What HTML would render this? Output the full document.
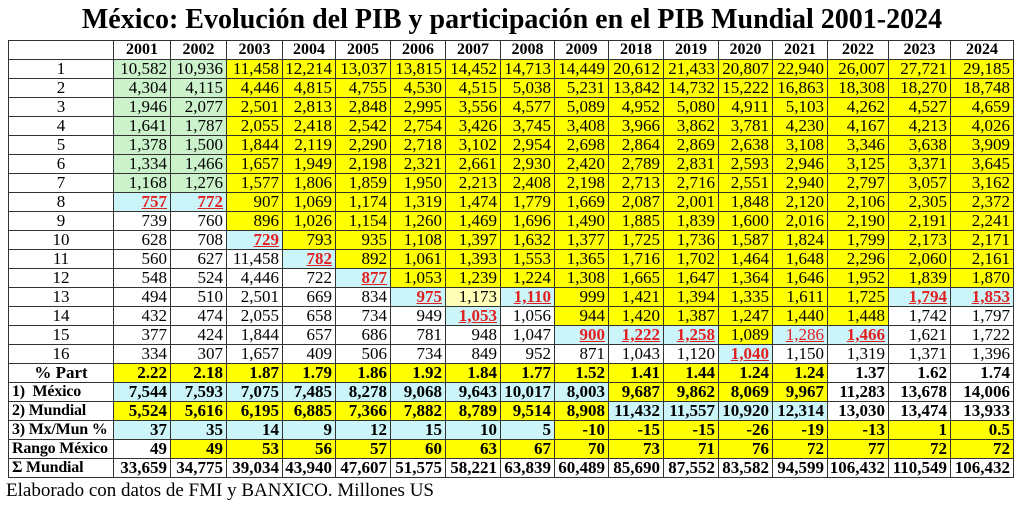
<!DOCTYPE html>
<html><head><meta charset="utf-8"><style>
body{margin:0;width:1024px;height:506px;background:#fff;overflow:hidden;font-family:"Liberation Serif",serif;}
h1{position:absolute;left:0;top:3px;width:1024px;margin:0;text-align:center;font-size:28px;line-height:34px;font-weight:bold;}
table{position:absolute;left:8px;top:40px;width:1005px;border-collapse:collapse;table-layout:fixed;}
td{border:1px solid #333;height:18px;padding:0 3px 0 0;font-size:17px;line-height:18px;text-align:right;white-space:nowrap;overflow:hidden;}
tr.h td{font-weight:bold;text-align:center;font-size:16px;padding:0;}
td.c{text-align:center;padding:0;}
td.lb{text-align:left;padding-left:3px;font-weight:bold;font-size:16px;letter-spacing:-0.2px;}
tr.bd td{font-weight:bold;}
.g{background:#ccf2cc}.y{background:#ffff00}.b{background:#ccf5fa}.l{background:#ffffb8}
.r{color:#e02020;font-weight:bold;text-decoration:underline;}
.f{position:absolute;left:6px;top:480px;font-size:19px;}
</style></head><body>
<h1>México: Evolución del PIB y participación en el PIB Mundial 2001-2024</h1>
<table>
<colgroup><col style="width:105px"><col style="width:57px"><col style="width:56px"><col style="width:56px"><col style="width:53px"><col style="width:55px"><col style="width:55px"><col style="width:55px"><col style="width:54px"><col style="width:54px"><col style="width:55px"><col style="width:55px"><col style="width:54px"><col style="width:55px"><col style="width:61px"><col style="width:62px"><col style="width:63px"></colgroup>
<tr class="h"><td></td><td>2001</td><td>2002</td><td>2003</td><td>2004</td><td>2005</td><td>2006</td><td>2007</td><td>2008</td><td>2009</td><td>2018</td><td>2019</td><td>2020</td><td>2021</td><td>2022</td><td>2023</td><td>2024</td></tr>
<tr><td class="c">1</td><td class="g">10,582</td><td class="g">10,936</td><td class="y">11,458</td><td class="y">12,214</td><td class="y">13,037</td><td class="y">13,815</td><td class="y">14,452</td><td class="y">14,713</td><td class="y">14,449</td><td class="y">20,612</td><td class="y">21,433</td><td class="y">20,807</td><td class="y">22,940</td><td class="y">26,007</td><td class="y">27,721</td><td class="y">29,185</td></tr>
<tr><td class="c">2</td><td class="g">4,304</td><td class="g">4,115</td><td class="y">4,446</td><td class="y">4,815</td><td class="y">4,755</td><td class="y">4,530</td><td class="y">4,515</td><td class="y">5,038</td><td class="y">5,231</td><td class="y">13,842</td><td class="y">14,732</td><td class="y">15,222</td><td class="y">16,863</td><td class="y">18,308</td><td class="y">18,270</td><td class="y">18,748</td></tr>
<tr><td class="c">3</td><td class="g">1,946</td><td class="g">2,077</td><td class="y">2,501</td><td class="y">2,813</td><td class="y">2,848</td><td class="y">2,995</td><td class="y">3,556</td><td class="y">4,577</td><td class="y">5,089</td><td class="y">4,952</td><td class="y">5,080</td><td class="y">4,911</td><td class="y">5,103</td><td class="y">4,262</td><td class="y">4,527</td><td class="y">4,659</td></tr>
<tr><td class="c">4</td><td class="g">1,641</td><td class="g">1,787</td><td class="y">2,055</td><td class="y">2,418</td><td class="y">2,542</td><td class="y">2,754</td><td class="y">3,426</td><td class="y">3,745</td><td class="y">3,408</td><td class="y">3,966</td><td class="y">3,862</td><td class="y">3,781</td><td class="y">4,230</td><td class="y">4,167</td><td class="y">4,213</td><td class="y">4,026</td></tr>
<tr><td class="c">5</td><td class="g">1,378</td><td class="g">1,500</td><td class="y">1,844</td><td class="y">2,119</td><td class="y">2,290</td><td class="y">2,718</td><td class="y">3,102</td><td class="y">2,954</td><td class="y">2,698</td><td class="y">2,864</td><td class="y">2,869</td><td class="y">2,638</td><td class="y">3,108</td><td class="y">3,346</td><td class="y">3,638</td><td class="y">3,909</td></tr>
<tr><td class="c">6</td><td class="g">1,334</td><td class="g">1,466</td><td class="y">1,657</td><td class="y">1,949</td><td class="y">2,198</td><td class="y">2,321</td><td class="y">2,661</td><td class="y">2,930</td><td class="y">2,420</td><td class="y">2,789</td><td class="y">2,831</td><td class="y">2,593</td><td class="y">2,946</td><td class="y">3,125</td><td class="y">3,371</td><td class="y">3,645</td></tr>
<tr><td class="c">7</td><td class="g">1,168</td><td class="g">1,276</td><td class="y">1,577</td><td class="y">1,806</td><td class="y">1,859</td><td class="y">1,950</td><td class="y">2,213</td><td class="y">2,408</td><td class="y">2,198</td><td class="y">2,713</td><td class="y">2,716</td><td class="y">2,551</td><td class="y">2,940</td><td class="y">2,797</td><td class="y">3,057</td><td class="y">3,162</td></tr>
<tr><td class="c">8</td><td class="b"><span class="r">757</span></td><td class="b"><span class="r">772</span></td><td class="y">907</td><td class="y">1,069</td><td class="y">1,174</td><td class="y">1,319</td><td class="y">1,474</td><td class="y">1,779</td><td class="y">1,669</td><td class="y">2,087</td><td class="y">2,001</td><td class="y">1,848</td><td class="y">2,120</td><td class="y">2,106</td><td class="y">2,305</td><td class="y">2,372</td></tr>
<tr><td class="c">9</td><td>739</td><td>760</td><td class="y">896</td><td class="y">1,026</td><td class="y">1,154</td><td class="y">1,260</td><td class="y">1,469</td><td class="y">1,696</td><td class="y">1,490</td><td class="y">1,885</td><td class="y">1,839</td><td class="y">1,600</td><td class="y">2,016</td><td class="y">2,190</td><td class="y">2,191</td><td class="y">2,241</td></tr>
<tr><td class="c">10</td><td>628</td><td>708</td><td class="b"><span class="r">729</span></td><td class="y">793</td><td class="y">935</td><td class="y">1,108</td><td class="y">1,397</td><td class="y">1,632</td><td class="y">1,377</td><td class="y">1,725</td><td class="y">1,736</td><td class="y">1,587</td><td class="y">1,824</td><td class="y">1,799</td><td class="y">2,173</td><td class="y">2,171</td></tr>
<tr><td class="c">11</td><td>560</td><td>627</td><td>11,458</td><td class="b"><span class="r">782</span></td><td class="y">892</td><td class="y">1,061</td><td class="y">1,393</td><td class="y">1,553</td><td class="y">1,365</td><td class="y">1,716</td><td class="y">1,702</td><td class="y">1,464</td><td class="y">1,648</td><td class="y">2,296</td><td class="y">2,060</td><td class="y">2,161</td></tr>
<tr><td class="c">12</td><td>548</td><td>524</td><td>4,446</td><td>722</td><td class="b"><span class="r">877</span></td><td class="y">1,053</td><td class="y">1,239</td><td class="y">1,224</td><td class="y">1,308</td><td class="y">1,665</td><td class="y">1,647</td><td class="y">1,364</td><td class="y">1,646</td><td class="y">1,952</td><td class="y">1,839</td><td class="y">1,870</td></tr>
<tr><td class="c">13</td><td>494</td><td>510</td><td>2,501</td><td>669</td><td>834</td><td class="b"><span class="r">975</span></td><td class="l">1,173</td><td class="b"><span class="r">1,110</span></td><td class="y">999</td><td class="y">1,421</td><td class="y">1,394</td><td class="y">1,335</td><td class="y">1,611</td><td class="y">1,725</td><td class="b"><span class="r">1,794</span></td><td class="b"><span class="r">1,853</span></td></tr>
<tr><td class="c">14</td><td>432</td><td>474</td><td>2,055</td><td>658</td><td>734</td><td>949</td><td class="b"><span class="r">1,053</span></td><td>1,056</td><td class="y">944</td><td class="y">1,420</td><td class="y">1,387</td><td class="y">1,247</td><td class="y">1,440</td><td class="y">1,448</td><td>1,742</td><td>1,797</td></tr>
<tr><td class="c">15</td><td>377</td><td>424</td><td>1,844</td><td>657</td><td>686</td><td>781</td><td>948</td><td>1,047</td><td class="b"><span class="r">900</span></td><td class="b"><span class="r">1,222</span></td><td class="b"><span class="r">1,258</span></td><td class="y">1,089</td><td class="b"><span class="r" style="font-weight:normal">1,286</span></td><td class="b"><span class="r">1,466</span></td><td>1,621</td><td>1,722</td></tr>
<tr><td class="c">16</td><td>334</td><td>307</td><td>1,657</td><td>409</td><td>506</td><td>734</td><td>849</td><td>952</td><td>871</td><td>1,043</td><td>1,120</td><td class="b"><span class="r">1,040</span></td><td>1,150</td><td>1,319</td><td>1,371</td><td>1,396</td></tr>
<tr class="bd"><td class="c">% Part</td><td class="y">2.22</td><td class="y">2.18</td><td class="y">1.87</td><td class="y">1.79</td><td class="y">1.86</td><td class="y">1.92</td><td class="y">1.84</td><td class="y">1.77</td><td class="y">1.52</td><td class="y">1.41</td><td class="y">1.44</td><td class="y">1.24</td><td class="y">1.24</td><td>1.37</td><td>1.62</td><td>1.74</td></tr>
<tr class="bd"><td class="lb">1)&nbsp; México</td><td class="b">7,544</td><td class="b">7,593</td><td class="b">7,075</td><td class="b">7,485</td><td class="b">8,278</td><td class="b">9,068</td><td class="b">9,643</td><td class="b">10,017</td><td class="b">8,003</td><td class="y">9,687</td><td class="y">9,862</td><td class="y">8,069</td><td class="y">9,967</td><td>11,283</td><td>13,678</td><td>14,006</td></tr>
<tr class="bd"><td class="lb">2) Mundial</td><td class="y">5,524</td><td class="y">5,616</td><td class="y">6,195</td><td class="y">6,885</td><td class="y">7,366</td><td class="y">7,882</td><td class="y">8,789</td><td class="y">9,514</td><td class="y">8,908</td><td class="b">11,432</td><td class="b">11,557</td><td class="b">10,920</td><td class="b">12,314</td><td>13,030</td><td>13,474</td><td>13,933</td></tr>
<tr class="bd"><td class="lb">3) Mx/Mun %</td><td class="b">37</td><td class="b">35</td><td class="b">14</td><td class="b">9</td><td class="b">12</td><td class="b">15</td><td class="b">10</td><td class="b">5</td><td class="y">-10</td><td class="y">-15</td><td class="y">-15</td><td class="y">-26</td><td class="y">-19</td><td class="y">-13</td><td class="y">1</td><td class="y">0.5</td></tr>
<tr class="bd"><td class="lb">Rango México</td><td>49</td><td class="y">49</td><td class="y">53</td><td class="y">56</td><td class="y">57</td><td class="y">60</td><td class="y">63</td><td class="y">67</td><td class="y">70</td><td class="y">73</td><td class="y">71</td><td class="y">76</td><td class="y">72</td><td class="y">77</td><td class="y">72</td><td class="y">72</td></tr>
<tr class="bd"><td class="lb">Σ Mundial</td><td>33,659</td><td>34,775</td><td>39,034</td><td>43,940</td><td>47,607</td><td>51,575</td><td>58,221</td><td>63,839</td><td>60,489</td><td>85,690</td><td>87,552</td><td>83,582</td><td>94,599</td><td>106,432</td><td>110,549</td><td>106,432</td></tr>
</table>
<div class="f">Elaborado con datos de FMI y BANXICO. Millones US</div>
</body></html>
